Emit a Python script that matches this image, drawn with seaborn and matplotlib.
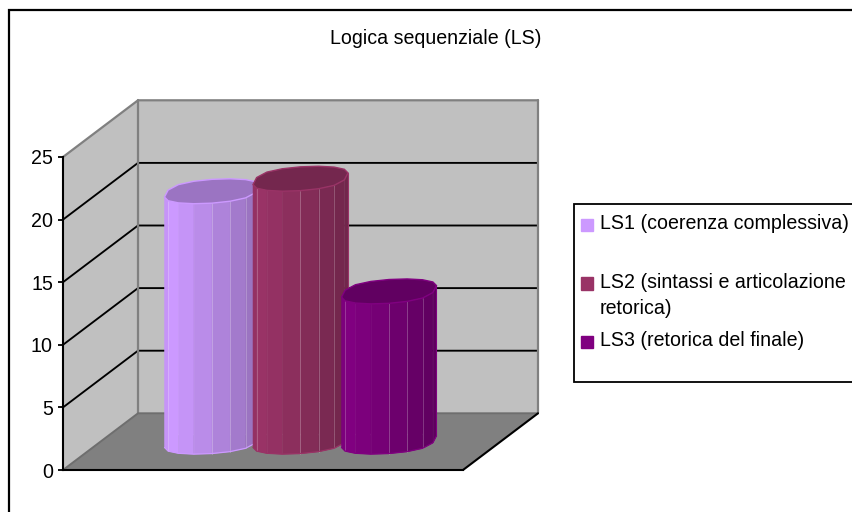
import numpy as np
import pandas as pd
import seaborn as sns
import matplotlib
matplotlib.use("Agg")
import matplotlib.pyplot as plt
from matplotlib.patches import Polygon, Rectangle, Patch
from matplotlib.legend_handler import HandlerPatch
from matplotlib.colors import to_rgb

# Data
series = ["LS1", "LS2", "LS3"]
values = [20, 21, 12]
legend_labels = [
    "LS1 (coerenza complessiva)\n ",
    "LS2 (sintassi e articolazione\nretorica)",
    "LS3 (retorica del finale)\n ",
]
title = "Logica sequenziale (LS)"
y_ticks = [0, 5, 10, 15, 20, 25]

# Colours
body_colors = ["#CC99FF", "#993366", "#800080"]
wall_color = "#C0C0C0"
floor_color = "#808080"

W, H = 853, 512
FONT = 14.1
sns.set_theme(style="white")
plt.rcParams["font.family"] = ["Liberation Sans", "DejaVu Sans"]
fig = plt.figure(figsize=(W / 100, H / 100), dpi=100, facecolor="white")

# Front plane of the oblique box
ax = fig.add_axes([63 / W, 1 - 470 / H, 400 / W, 313 / H])
ax.patch.set_visible(False)

df = pd.DataFrame({"serie": series, "valore": values})
bar_width = 1.073
sns.barplot(data=df, x="serie", y="valore", hue="serie", palette=body_colors,
            width=bar_width, dodge=False, legend=False, errorbar=None,
            saturation=1, ax=ax, zorder=3)

xlim = (-1.26, 3.26)
ax.set_xlim(*xlim)
ax.set_ylim(0, 25)
ax.set_xlabel("")
ax.set_ylabel("")
ax.set_xticks([])
ax.set_yticks(y_ticks)
ax.tick_params(axis="y", left=True, length=3.6, width=1.3, color="black",
               labelsize=FONT, labelcolor="black", pad=3.6)
for side in ("top", "right"):
    ax.spines[side].set_visible(False)
for side in ("left", "bottom"):
    ax.spines[side].set_color("black")
    ax.spines[side].set_linewidth(1.5)
    ax.spines[side].set_zorder(2.5)

# Depth of the box expressed in axis units
depth_x = 75 * (xlim[1] - xlim[0]) / 400
depth_y = 56.7 * 25 / 313
x0, x1 = xlim
y_top = y_ticks[-1]

# Walls and floor
ax.add_patch(Polygon([(x0, 0), (x0 + depth_x, depth_y), (x0 + depth_x, y_top + depth_y), (x0, y_top)],
                     closed=True, fc=wall_color, ec="none", clip_on=False, zorder=0.5))
ax.add_patch(Rectangle((x0 + depth_x, depth_y), x1 - x0, y_top, fc=wall_color, ec="none",
                       clip_on=False, zorder=0.5))
ax.add_patch(Polygon([(x0, 0), (x1, 0), (x1 + depth_x, depth_y), (x0 + depth_x, depth_y)],
                     closed=True, fc=floor_color, ec="none", clip_on=False, zorder=0.6))

# Gridlines run along the side wall, then across the back wall
for tick in y_ticks[1:-1]:
    ax.plot([x0, x0 + depth_x, x1 + depth_x], [tick, tick + depth_y, tick + depth_y],
            color="black", lw=1.35, clip_on=False, zorder=1, solid_joinstyle="miter")

# Box edges
edge = dict(color="#808080", lw=1.6, clip_on=False, zorder=1.2)
ax.plot([x0, x0 + depth_x, x1 + depth_x], [y_top, y_top + depth_y, y_top + depth_y], **edge)
ax.plot([x0 + depth_x, x0 + depth_x], [depth_y, y_top + depth_y], **edge)
ax.plot([x1 + depth_x, x1 + depth_x], [depth_y, y_top + depth_y], **edge)
ax.plot([x0, x0 + depth_x, x1 + depth_x], [0, depth_y, depth_y], color="#6E6E6E", lw=1.4,
        clip_on=False, zorder=1.2)
ax.plot([x1, x1 + depth_x], [0, depth_y], color="black", lw=1.5, clip_on=False, zorder=1.3)


def shade(color, factor):
    return tuple(c * factor for c in to_rgb(color))


# Each bar becomes a faceted cylinder standing mid-way through the depth
r_dx = 0.22 * depth_x
r_dy = 0.22 * depth_y
tip_angle = np.arctan2(r_dx, np.sqrt((bar_width / 2) ** 2 - r_dx ** 2))
n_sides = 16
seam_alpha = [0.04, 0.22, 0.04, 0.04, 0.25, 0.25, 0.22, 0.04]

for i, bar in enumerate(ax.patches[:len(series)]):
    base = body_colors[i]
    cx = bar.get_x() + bar.get_width() / 2 + depth_x / 2
    value = bar.get_height()
    rx = np.sqrt((bar.get_width() / 2) ** 2 - r_dx ** 2)
    y_base = depth_y / 2
    y_cap = y_base + value
    z = 3 + i

    # Keep the flat bar inside the cylinder's silhouette
    bar.set_x(cx - 0.4)
    bar.set_width(0.8)
    bar.set_y(y_base + 0.6)
    bar.set_height(value - 1.2)
    bar.set_zorder(z)

    angles = np.pi + tip_angle + np.arange(n_sides + 1) * 2 * np.pi / n_sides
    xs = cx + rx * np.cos(angles) + r_dx * np.sin(angles)
    # Slightly squared outline gives the rim its fuller, blocky look
    ys = r_dy * np.sign(np.sin(angles)) * np.abs(np.sin(angles)) ** 0.72

    # Front facets, brightest just right of the left edge
    for k in range(n_sides // 2):
        frac = (xs[k] + xs[k + 1] - 2 * xs[0]) / (2 * bar_width)
        factor = 1.0 - 0.27 * max(frac - 0.12, 0) / 0.88
        if k == 0:
            factor = 0.97
        col = shade(base, factor)
        quad = [(xs[k], y_base + ys[k]), (xs[k + 1], y_base + ys[k + 1]),
                (xs[k + 1], y_cap + ys[k + 1]), (xs[k], y_cap + ys[k])]
        ax.add_patch(Polygon(quad, closed=True, fc=col, ec=col, lw=0.4, clip_on=False, zorder=z + 0.1))
    for k in range(1, n_sides // 2):
        ax.plot([xs[k], xs[k]], [y_base + ys[k], y_cap + ys[k]], color="white",
                alpha=seam_alpha[k], lw=0.7, clip_on=False, zorder=z + 0.2)

    # Lower rim picks up the series colour
    ax.plot(xs[:n_sides // 2 + 1], y_base + ys[:n_sides // 2 + 1], color=base, lw=0.9,
            clip_on=False, zorder=z + 0.25)
    ax.plot([xs[n_sides // 2]] * 2, [y_base + ys[n_sides // 2], y_cap + ys[n_sides // 2]],
            color=base, lw=0.8, clip_on=False, zorder=z + 0.25)

    # Cap
    ax.add_patch(Polygon(np.column_stack([xs, y_cap + ys]), closed=True, fc=shade(base, 0.76),
                         ec=base, lw=1.0, clip_on=False, zorder=z + 0.3))

# Chart title and outer border
fig.text(436 / W, 1 - 38 / H, title, ha="center", va="center", fontsize=FONT, color="black")
fig.add_artist(Rectangle((9 / W, 1 - 560 / H), 900 / W, 550 / H, transform=fig.transFigure,
                         fc="none", ec="black", lw=1.6))

# Legend box runs past the right edge of the figure
fig.add_artist(Rectangle((574 / W, 1 - 382 / H), 320 / W, 178 / H, transform=fig.transFigure,
                         fc="white", ec="black", lw=1.3))


# Legend swatch sits on the first text line of its entry
def first_line_swatch(legend, orig_handle, xdescent, ydescent, width, height, fontsize):
    return Rectangle((-xdescent, -ydescent + 9.0), width, height)


handles = [Patch(color=c, label=l) for c, l in zip(body_colors, legend_labels)]
leg = fig.legend(handles=handles, loc="upper left",
                 bbox_to_anchor=(574 / W, 1 - 207.5 / H), bbox_transform=fig.transFigure,
                 borderaxespad=0, frameon=False, fontsize=FONT, borderpad=0.35, labelspacing=0.7,
                 handlelength=0.6, handleheight=0.6, handletextpad=0.36,
                 handler_map={Patch: HandlerPatch(patch_func=first_line_swatch)})
for text in leg.get_texts():
    text.set_linespacing(1.45)
    text.set_color("black")

fig.savefig("out.png", dpi=100, facecolor="white")
